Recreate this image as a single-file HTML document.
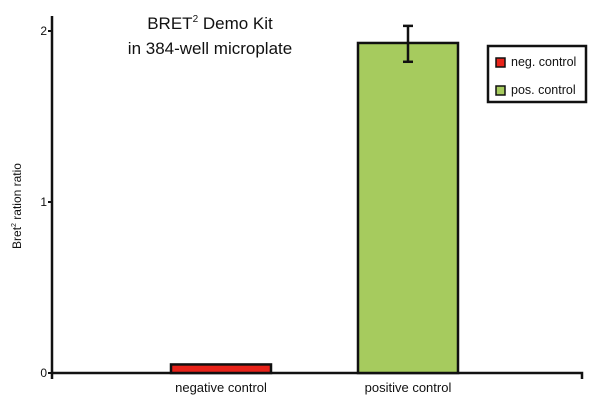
<!DOCTYPE html>
<html><head><meta charset="utf-8"><style>
body{margin:0;background:#fff;}
svg{display:block;font-family:"Liberation Sans",sans-serif;}
</style></head><body>
<svg id="chart" width="600" height="409" viewBox="0 0 600 409">
<text x="210" y="29" text-anchor="middle" font-size="17" fill="#111">BRET<tspan font-size="10" dy="-7">2</tspan><tspan dy="7"> Demo Kit</tspan></text>
<text x="210" y="54" text-anchor="middle" font-size="17" fill="#111">in 384-well microplate</text>
<text transform="translate(21,206) rotate(-90)" text-anchor="middle" font-size="12" fill="#111">Bret<tspan font-size="7" dy="-5">2</tspan><tspan dy="5"> ration ratio</tspan></text>
<g id="axes"></g>
<g id="bars"></g>
<g>
<rect x="488" y="46" width="98" height="56" fill="#fff" stroke="#111" stroke-width="2.5"/>
<rect x="496" y="58" width="9" height="9" fill="#e8231a" stroke="#111" stroke-width="1.5"/>
<text x="511" y="66" font-size="12.5" fill="#111">neg. control</text>
<rect x="496" y="86" width="9" height="9" fill="#a6cb5e" stroke="#111" stroke-width="1.5"/>
<text x="511" y="94" font-size="12.5" fill="#111">pos. control</text>
</g>
</svg>
<script>
const categories=["negative control","positive control"];
const values=[0.05,1.93];
const errHigh=[0,2.03];
const errLow=[0,1.82];
const colors=["#e8231a","#a6cb5e"];
const yTicks=[0,1,2];
const ns="http://www.w3.org/2000/svg";
const y0=373,yUnit=171,xLeft=52,xRight=582;
const y=v=>y0-v*yUnit;
const barCenters=[221,408],barW=100;
const x=i=>barCenters[0]+i*(barCenters[1]-barCenters[0]);
function mk(tag,attrs,parent){const e=document.createElementNS(ns,tag);for(const k in attrs)e.setAttribute(k,attrs[k]);parent.appendChild(e);return e;}
const axes=document.getElementById('axes'),bars=document.getElementById('bars');
categories.forEach((c,i)=>{
 const r=mk('rect',{x:x(i)-barW/2,y:y(values[i]),width:barW,height:y0-y(values[i]),fill:colors[i],stroke:'#111','stroke-width':2.5},bars);
 
 
 if(errHigh[i]>values[i]){
  const g=mk('g',{stroke:'#111','stroke-width':2.5},bars);
  
  
  mk('line',{x1:x(i),x2:x(i),y1:y(errHigh[i]),y2:y(errLow[i])},g);
  mk('line',{x1:x(i)-5,x2:x(i)+5,y1:y(errHigh[i]),y2:y(errHigh[i])},g);
  mk('line',{x1:x(i)-5,x2:x(i)+5,y1:y(errLow[i]),y2:y(errLow[i])},g);
 }
 const t=mk('text',{x:x(i),y:392,'text-anchor':'middle','font-size':13,fill:'#111'},axes);
 t.textContent=c;
 
 
});
const ya=mk('line',{x1:xLeft,x2:xLeft,y1:16,y2:y0+6,stroke:'#111','stroke-width':2.5},axes);


const xa=mk('path',{d:`M${xLeft} ${y0}H${xRight}V${y0+6}`,fill:'none',stroke:'#111','stroke-width':2.5},axes);


yTicks.forEach(v=>{
 mk('line',{x1:xLeft-4,x2:xLeft,y1:y(v),y2:y(v),stroke:'#111','stroke-width':2},axes);
 const t=mk('text',{x:xLeft-5,y:y(v)+4,'text-anchor':'end','font-size':12,fill:'#111'},axes);
 t.textContent=v;
 
 
});
</script>
</body></html>
